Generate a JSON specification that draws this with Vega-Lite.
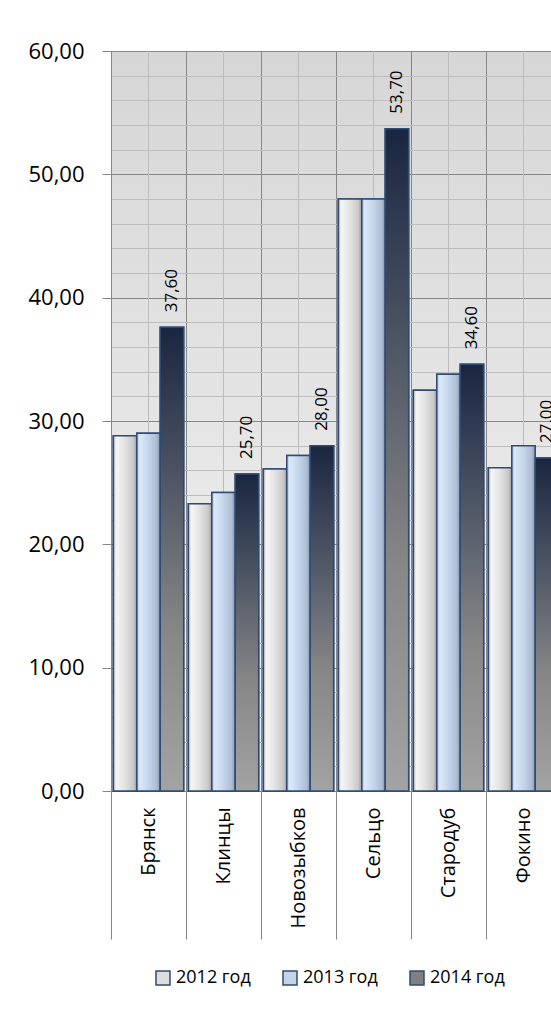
{
  "$schema": "https://vega.github.io/schema/vega-lite/v6.json",
  "width": 440,
  "height": 740,
  "autosize": {"type": "none"},
  "padding": {"left": 111, "top": 51, "right": 0, "bottom": 232},
  "background": "#ffffff",
  "config": {
    "locale": {"number": {"decimal": ",", "thousands": " ", "grouping": [3], "currency": ["", " ₽"]}},
    "font": "Open Sans",
    "view": {
      "stroke": null,
      "fill": {"gradient": "linear", "x1": 0, "y1": 0, "x2": 0, "y2": 1,
        "stops": [{"offset": 0, "color": "#d6d6d6"}, {"offset": 1, "color": "#f4f4f4"}]}
    }
  },
  "data": {"values": [
    {"city": "Брянск", "year": "2012 год", "value": 28.8},
    {"city": "Брянск", "year": "2013 год", "value": 29.0},
    {"city": "Брянск", "year": "2014 год", "value": 37.6},
    {"city": "Клинцы", "year": "2012 год", "value": 23.3},
    {"city": "Клинцы", "year": "2013 год", "value": 24.2},
    {"city": "Клинцы", "year": "2014 год", "value": 25.7},
    {"city": "Новозыбков", "year": "2012 год", "value": 26.1},
    {"city": "Новозыбков", "year": "2013 год", "value": 27.2},
    {"city": "Новозыбков", "year": "2014 год", "value": 28.0},
    {"city": "Сельцо", "year": "2012 год", "value": 48.0},
    {"city": "Сельцо", "year": "2013 год", "value": 48.0},
    {"city": "Сельцо", "year": "2014 год", "value": 53.7},
    {"city": "Стародуб", "year": "2012 год", "value": 32.5},
    {"city": "Стародуб", "year": "2013 год", "value": 33.8},
    {"city": "Стародуб", "year": "2014 год", "value": 34.6},
    {"city": "Фокино", "year": "2012 год", "value": 26.2},
    {"city": "Фокино", "year": "2013 год", "value": 28.0},
    {"city": "Фокино", "year": "2014 год", "value": 27.0}
  ]},
  "layer": [
    {
      "mark": {"type": "rule", "color": "#bcbcbc", "strokeWidth": 1},
      "encoding": {
        "x": {"field": "city", "type": "nominal",
          "sort": ["Брянск", "Клинцы", "Новозыбков", "Сельцо", "Стародуб", "Фокино"],
          "scale": {"range": [0, 450], "paddingInner": 0, "paddingOuter": 0},
          "axis": {"title": null, "labelAngle": -90, "labelFontSize": 20, "labelColor": "#000000",
            "labelPadding": -132, "tickBand": "extent", "tickSize": 148, "tickColor": "#868686",
            "domainColor": "#868686", "grid": true, "gridColor": "#878787", "labelFont": "Open Sans"}
        }
      }
    },
    {
      "mark": {"type": "bar", "stroke": "#2f4b73", "strokeWidth": 1.5},
      "encoding": {
        "x": {"field": "city", "type": "nominal", "sort": ["Брянск", "Клинцы", "Новозыбков", "Сельцо", "Стародуб", "Фокино"]},
        "xOffset": {"field": "year", "type": "nominal", "scale": {"domain": ["2012 год", "2013 год", "2014 год"], "paddingInner": 0, "paddingOuter": 0.1}},
        "y": {"field": "value", "type": "quantitative",
          "scale": {"domain": [0, 60], "nice": false},
          "axis": {"title": null, "values": [0,2,4,6,8,10,12,14,16,18,20,22,24,26,28,30,32,34,36,38,40,42,44,46,48,50,52,54,56,58,60],
            "tickCount": 100,
            "format": ".2f", "labelExpr": "datum.value % 10 === 0 ? datum.label : ''", "labelOverlap": false,
            "labelFontSize": 22, "labelColor": "#000000", "labelPadding": 18, "tickSize": 9,
            "tickOpacity": {"condition": {"test": "datum.value % 10 === 0", "value": 1}, "value": 0},
            "tickColor": "#868686",
            "gridColor": {"condition": {"test": "datum.value % 10 === 0", "value": "#878787"}, "value": "#bdbdbd"},
            "domainColor": "#868686", "labelFont": "Open Sans"}
        },
        "color": {"field": "year", "type": "nominal",
          "scale": {"domain": ["2012 год", "2013 год", "2014 год"], "range": ["#dcdcdc", "#c3d3e8", "#808080"]},
          "legend": {"title": null, "orient": "none", "legendX": 43, "legendY": 918, "direction": "horizontal",
            "symbolType": "square", "symbolSize": 196, "symbolStrokeColor": "#2f4b73", "symbolStrokeWidth": 1.5,
            "labelFont": "Open Sans", "labelFontSize": 18, "labelColor": "#000000", "labelOffset": 4, "columnPadding": 29}
        }
      }
    },
    {
      "transform": [{"filter": "datum.year === '2012 год'"}],
      "mark": {"type": "bar", "stroke": "#2f4b73", "strokeWidth": 1.5,
        "fill": {"gradient": "linear", "x1": 0, "y1": 0, "x2": 1, "y2": 0,
          "stops": [{"offset": 0, "color": "#b4b4b4"}, {"offset": 0.12, "color": "#f6f6f6"}, {"offset": 0.5, "color": "#e2e2e2"}, {"offset": 0.85, "color": "#c9c9c9"}, {"offset": 1, "color": "#9c9c9c"}]}},
      "encoding": {
        "x": {"field": "city", "type": "nominal", "sort": ["Брянск", "Клинцы", "Новозыбков", "Сельцо", "Стародуб", "Фокино"]},
        "xOffset": {"field": "year", "type": "nominal", "scale": {"domain": ["2012 год", "2013 год", "2014 год"]}},
        "y": {"field": "value", "type": "quantitative"}
      }
    },
    {
      "transform": [{"filter": "datum.year === '2013 год'"}],
      "mark": {"type": "bar", "stroke": "#2f4b73", "strokeWidth": 1.5,
        "fill": {"gradient": "linear", "x1": 0, "y1": 0, "x2": 1, "y2": 0,
          "stops": [{"offset": 0, "color": "#9fb6d4"}, {"offset": 0.12, "color": "#dde9f8"}, {"offset": 0.5, "color": "#c3d5ec"}, {"offset": 0.85, "color": "#aebdd2"}, {"offset": 1, "color": "#8395ae"}]}},
      "encoding": {
        "x": {"field": "city", "type": "nominal", "sort": ["Брянск", "Клинцы", "Новозыбков", "Сельцо", "Стародуб", "Фокино"]},
        "xOffset": {"field": "year", "type": "nominal", "scale": {"domain": ["2012 год", "2013 год", "2014 год"]}},
        "y": {"field": "value", "type": "quantitative"}
      }
    },
    {
      "transform": [{"filter": "datum.year === '2014 год'"}],
      "mark": {"type": "bar", "stroke": "#2f4b73", "strokeWidth": 1.5,
        "fill": {"gradient": "linear", "x1": 0, "y1": 0, "x2": 0, "y2": 1,
          "stops": [{"offset": 0, "color": "#1a2640"}, {"offset": 0.3, "color": "#4a5262"}, {"offset": 0.65, "color": "#868686"}, {"offset": 1, "color": "#a3a3a3"}]}},
      "encoding": {
        "x": {"field": "city", "type": "nominal", "sort": ["Брянск", "Клинцы", "Новозыбков", "Сельцо", "Стародуб", "Фокино"]},
        "xOffset": {"field": "year", "type": "nominal", "scale": {"domain": ["2012 год", "2013 год", "2014 год"]}},
        "y": {"field": "value", "type": "quantitative"}
      }
    },
    {
      "transform": [{"filter": "datum.year === '2014 год'"}],
      "mark": {"type": "text", "angle": 270, "align": "left", "baseline": "middle", "dx": 15, "fontSize": 17, "color": "#000000", "font": "Open Sans"},
      "encoding": {
        "x": {"field": "city", "type": "nominal", "sort": ["Брянск", "Клинцы", "Новозыбков", "Сельцо", "Стародуб", "Фокино"]},
        "xOffset": {"field": "year", "type": "nominal", "scale": {"domain": ["2012 год", "2013 год", "2014 год"]}},
        "y": {"field": "value", "type": "quantitative"},
        "text": {"field": "value", "type": "quantitative", "format": ".2f"}
      }
    }
  ]
}
